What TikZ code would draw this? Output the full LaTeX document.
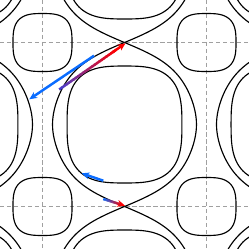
\documentclass[tikz,border=0pt]{standalone}
\usepackage{xcolor}
\usetikzlibrary{arrows.meta, calc}
\definecolor{arrowblue}{RGB}{10,108,255}
\definecolor{tailpurple}{RGB}{68,64,210}
\definecolor{gridgray}{RGB}{160,160,160}

\begin{document}
\begin{tikzpicture}[
  x=1cm, y=-1cm,
  level/.style={black, line width=1.25pt},
  gridline/.style={gridgray, line width=1.1pt, dash pattern=on 4.6pt off 3pt},
  bluearrow/.style={-{Stealth[length=8.5pt,width=7.5pt]}, line width=2.7pt, arrowblue},
  redarrow/.style={-{Stealth[length=8.5pt,width=7.5pt]}, line width=2.7pt, red},
  declare function={
    eyeu(\v)=rad(acos(max(-1,min(1,-(0.647+0.9376*cos(deg(\v)))/(1+0.7094*cos(deg(\v)))))));
    sq(\a)=(abs(cos(\a))*cos(\a)^2+abs(sin(\a))*sin(\a)^2)^(-1/3);
  }
]
\useasboundingbox (pi-4.77,pi-4.77) rectangle (pi+4.77,pi+4.77);
\clip (pi-4.77,pi-4.77) rectangle (pi+4.77,pi+4.77);

% dashed grid through the maxima
\foreach \g in {0,2*pi} {
  \draw[gridline] (\g,pi-4.77) -- (\g,pi+4.77);
  \draw[gridline] (pi-4.77,\g) -- (pi+4.77,\g);
}

% separatrix and inner loop round every minimum
\foreach \m in {-1,0,1} {
  \foreach \n in {-1,0,1} {
    \begin{scope}[shift={({pi+2*pi*(\m)},{pi+2*pi*(\n)})}]
      \draw[level] plot[domain=-pi:pi, samples=81, variable=\t] ({eyeu(\t)},\t);
      \draw[level] plot[domain=-pi:pi, samples=81, variable=\t] ({-eyeu(\t)},\t);
      \draw[level] plot[domain=0:360, samples=145, smooth cycle, variable=\t]
        ({2.20*cos(\t)*sq(\t)},{2.24*sin(\t)*sq(\t)});
    \end{scope}
  }
}

% small loops round the maxima
\foreach \m in {0,1} {
  \foreach \n in {0,1} {
    \begin{scope}[shift={({2*pi*\m},{2*pi*\n})}]
      \draw[level] plot[domain=0:360, samples=145, smooth cycle, variable=\t]
        ({1.13*cos(\t)*sq(\t)},{1.11*sin(\t)*sq(\t)});
    \end{scope}
  }
}

% arrows
\coordinate (blueTailA) at (1.973,0.506);
\coordinate (blueHeadA) at (-0.506,2.176);
\coordinate (gradTailA) at (0.640,1.800);
\coordinate (gradHeadA) at (3.18,0.03);
\coordinate (blueTailB) at (2.329,5.295);
\coordinate (blueHeadB) at (1.502,5.011);
\coordinate (gradTailB) at (2.329,5.996);
\coordinate (gradHeadB) at (3.161,6.253);

\draw[bluearrow] (blueTailA) -- (blueHeadA);
\draw[bluearrow] (blueTailB) -- (blueHeadB);

\foreach \tl/\hd/\cs in {gradTailA/gradHeadA/tailpurple, gradTailB/gradHeadB/arrowblue} {
  \draw[redarrow] ($(\tl)!0.8!(\hd)$) -- (\hd);
  \foreach \i in {1,...,24} {
    \pgfmathsetmacro\pa{(\i-1)/24*0.85}
    \pgfmathsetmacro\pb{\i/24*0.85+0.01}
    \pgfmathsetmacro\mix{100*(\i-0.5)/24}
    \draw[line width=2.7pt, red!\mix!\cs] ($(\tl)!\pa!(\hd)$) -- ($(\tl)!\pb!(\hd)$);
  }
}
\end{tikzpicture}
\end{document}
